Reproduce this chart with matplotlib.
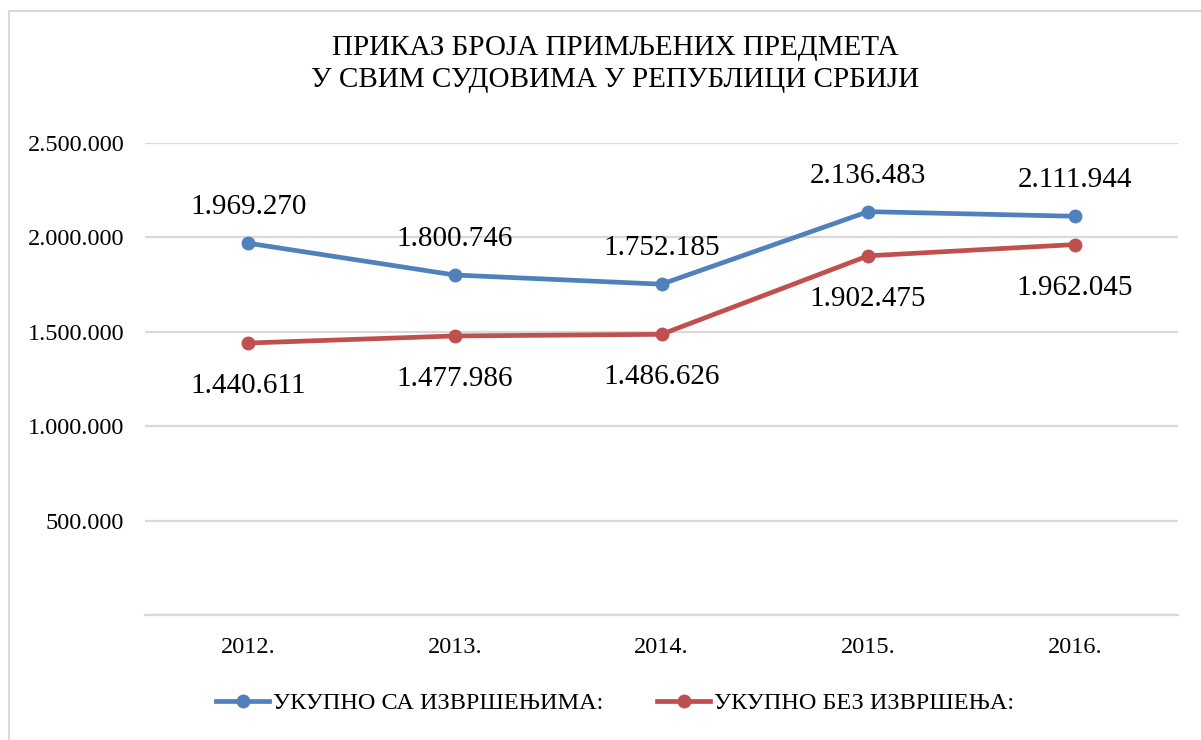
import matplotlib
matplotlib.use('Agg')
import matplotlib.pyplot as plt
from matplotlib.ticker import FuncFormatter, MultipleLocator
from matplotlib.lines import Line2D

plt.rcParams['font.family'] = ['Liberation Serif', 'DejaVu Serif']

years = ['2012.', '2013.', '2014.', '2015.', '2016.']
sa_izvrsenjima = [1969270, 1800746, 1752185, 2136483, 2111944]
bez_izvrsenja = [1440611, 1477986, 1486626, 1902475, 1962045]

title = 'ПРИКАЗ БРОЈА ПРИМЉЕНИХ ПРЕДМЕТА\nУ СВИМ СУДОВИМА У РЕПУБЛИЦИ СРБИЈИ'
label_blue = 'УКУПНО СА ИЗВРШЕЊИМА:'
label_red = 'УКУПНО БЕЗ ИЗВРШЕЊА:'

blue = '#4F81BD'
red = '#C0504D'
grid_gray = '#D9D9D9'


def fmt_dots(v):
    return '{:,}'.format(int(round(v))).replace(',', '.')


W, H = 1201, 740
fig = plt.figure(figsize=(W / 100, H / 100), dpi=100)
ax = fig.add_axes([145 / W, 1 - 615 / H, (1178 - 145) / W, (615 - 143) / H])

x = list(range(len(years)))
ax.plot(x, sa_izvrsenjima, color=blue, lw=3.4, marker='o', ms=9,
        solid_capstyle='round', label=label_blue)
ax.plot(x, bez_izvrsenja, color=red, lw=3.4, marker='o', ms=9,
        solid_capstyle='round', label=label_red)

for xi, v in zip(x, sa_izvrsenjima):
    ax.annotate(fmt_dots(v), (xi, v), xytext=(0, 26), textcoords='offset points',
                ha='center', va='center', fontsize=21)
for xi, v in zip(x, bez_izvrsenja):
    ax.annotate(fmt_dots(v), (xi, v), xytext=(0, -31), textcoords='offset points',
                ha='center', va='center', fontsize=21)

ax.set_xlim(-0.5, len(years) - 0.5)
ax.set_ylim(0, 2500000)
ax.set_xticks(x)
ax.set_xticklabels(years, fontsize=17.5)
ax.yaxis.set_major_locator(MultipleLocator(500000))
ax.yaxis.set_major_formatter(FuncFormatter(lambda v, p: '' if v == 0 else fmt_dots(v)))
ax.tick_params(axis='y', labelsize=17.5, length=0, pad=15)
ax.tick_params(axis='x', length=0, pad=16)
ax.grid(axis='y', color=grid_gray, lw=1.6)
ax.set_axisbelow(True)
for s in ['top', 'right', 'left']:
    ax.spines[s].set_visible(False)
ax.spines['bottom'].set_color(grid_gray)
ax.spines['bottom'].set_linewidth(1.6)

fig.text(615 / W, 1 - 64 / H, title, ha='center', va='center', fontsize=21,
         linespacing=1.3)

handles = [Line2D([], [], color=blue, lw=3.4, marker='o', ms=9),
           Line2D([], [], color=red, lw=3.4, marker='o', ms=9)]
fig.legend(handles, [label_blue, label_red], loc='center', ncol=2,
           bbox_to_anchor=(615 / W, 1 - 703 / H), frameon=False, fontsize=17.5,
           handlelength=2.2, handletextpad=0.15, columnspacing=2.2)

# outer chart border
fig.add_artist(Line2D([9 / W, 9 / W], [0, 1 - 11 / H], color=grid_gray, lw=1.5))
fig.add_artist(Line2D([9 / W, 1], [1 - 11 / H, 1 - 11 / H], color=grid_gray, lw=1.5))

fig.savefig('out.png', dpi=100)
